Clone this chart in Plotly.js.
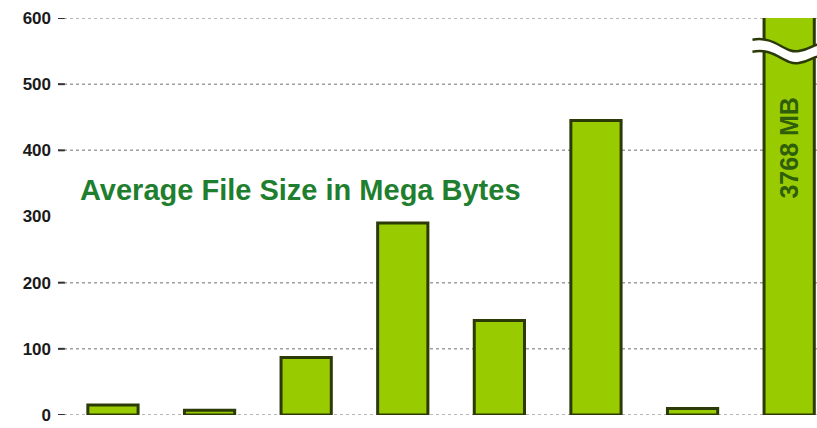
<!DOCTYPE html>
<html>
<head>
<meta charset="utf-8">
<script src="https://cdn.plot.ly/plotly-3.0.1.min.js"></script>
<style>html,body{margin:0;padding:0;background:#fff;}#chart{width:817px;height:428px;}</style>
</head>
<body>
<div id="chart"></div>
<script>
// Data
var categories = ["1", "2", "3", "4", "5", "6", "7", "8"];
var fileSizeMB = [15, 7, 87, 290, 143, 445, 10, 3768];
var tickValues = [0, 100, 200, 300, 400, 500, 600];
var tickLabels = ["0", "100", "200", "300", "400", "500", "600"];
var gridValues = [0, 100, 200, 400, 500, 600];
var chartTitle = "Average File Size in Mega Bytes";
var bigLabel = "3768 MB";

var shapes = [];
gridValues.forEach(function (v) {
  shapes.push({type: "line", xref: "paper", yref: "y", x0: 0, x1: 1, y0: v, y1: v,
    line: {color: "#a0a0a0", width: 1.5, dash: "dot"}, layer: "below"});
  shapes.push({type: "line", xref: "paper", yref: "y", x0: 0, x1: 0.009, y0: v, y1: v,
    line: {color: "#333", width: 2}, layer: "below"});
});
// axis break on the tall bar
shapes.push({type: "path", xref: "x", yref: "y",
  path: "M 6.62,567 C 6.85,574 6.95,546 7.1,550 S 7.25,562 7.35,560 L 7.35,542 C 7.25,544 7.2,530 7.1,532 C 6.95,528 6.85,556 6.62,549 Z",
  fillcolor: "#ffffff", line: {width: 0}, layer: "above"});
shapes.push({type: "path", xref: "x", yref: "y",
  path: "M 6.62,567 C 6.85,574 6.95,546 7.1,550 S 7.25,562 7.35,560",
  line: {color: "#2b3a07", width: 2.5}, layer: "above"});
shapes.push({type: "path", xref: "x", yref: "y",
  path: "M 6.62,549 C 6.85,556 6.95,528 7.1,532 S 7.25,544 7.35,542",
  line: {color: "#2b3a07", width: 2.5}, layer: "above"});

var trace = {
  type: "bar",
  x: categories,
  y: fileSizeMB,
  width: 0.52,
  marker: {color: "#99cc00", line: {color: "#2b3a07", width: 3}},
  hoverinfo: "skip"
};

var layout = {
  width: 817, height: 428,
  margin: {l: 58, r: 0, t: 18, b: 13, pad: 0},
  paper_bgcolor: "#ffffff", plot_bgcolor: "#ffffff",
  showlegend: false,
  xaxis: {type: "category", range: [-0.569, 7.288], showticklabels: false, showgrid: false,
    zeroline: false, showline: false, ticks: ""},
  yaxis: {range: [0, 600], tickvals: tickValues, ticktext: tickLabels, showgrid: false,
    zeroline: false, showline: false, ticks: "", ticklabelstandoff: 6,
    tickfont: {family: "Liberation Sans, Arial, sans-serif", size: 17, color: "#1a1a1a", weight: "bold"}},
  shapes: shapes,
  annotations: [
    {text: chartTitle, xref: "paper", yref: "paper", x: 0.026, y: 0.567, xanchor: "left", yanchor: "middle",
      showarrow: false,
      font: {family: "Liberation Sans Narrow, Arial Narrow, Liberation Sans, sans-serif", size: 29, color: "#1f7f2f", weight: "bold"}},
    {text: bigLabel, xref: "x", yref: "y", x: 7, y: 403, textangle: -90, showarrow: false,
      xanchor: "center", yanchor: "middle",
      font: {family: "Liberation Sans, Arial, sans-serif", size: 25, color: "#2e5e0a", weight: "bold"}}
  ]
};

Plotly.newPlot("chart", [trace], layout, {displayModeBar: false, staticPlot: true});
</script>
</body>
</html>
